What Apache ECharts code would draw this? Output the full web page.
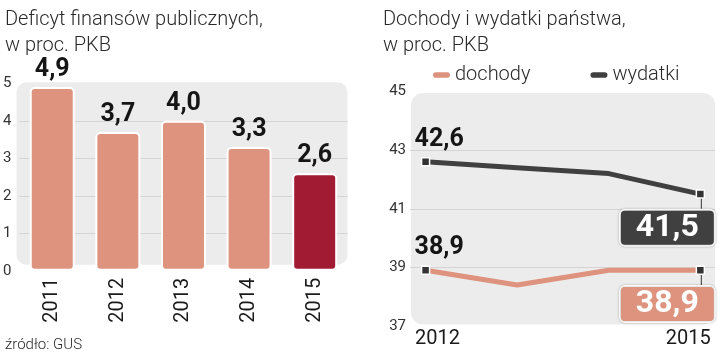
<!DOCTYPE html>
<html>
<head>
<meta charset="utf-8">
<script src="https://cdn.jsdelivr.net/npm/echarts@6/dist/echarts.min.js"></script>
<style>
html,body{margin:0;padding:0;background:#fff;}
#c{width:720px;height:355px;}
</style>
</head>
<body>
<div id="c"></div>
<script>
// ---- data ----
const deficitYears = ['2011', '2012', '2013', '2014', '2015'];
const deficit = [4.9, 3.7, 4.0, 3.3, 2.6];
const lineYears = [2012, 2013, 2014, 2015];
const dochody = [38.9, 38.4, 38.9, 38.9];
const wydatki = [42.6, 42.4, 42.2, 41.5];
const leftTicks = [0, 1, 2, 3, 4, 5];
const rightTicks = [37, 39, 41, 43, 45];
const rightXLabels = [2012, 2015];

// ---- layout / style ----
const FONT = 'Roboto';
const SALMON = '#de937e';
const DARKRED = '#a11b33';
const DARK = '#404040';
const BG = '#ececec';
const GRIDC = '#d4d4d4';

const G0 = { left: 16.5, top: 83.3, width: 331, height: 187.5 };
const G1 = { left: 410, top: 91.5, width: 305, height: 234.5 };
const BG0 = { x: G0.left, y: G0.top - 1, w: G0.width, h: G0.height - 5, r: 10 };
const BG1 = { x: G1.left + 1, y: G1.top + 1.5, w: G1.width - 1, h: G1.height - 3, r: 12 };

const fmt = v => Number(v).toFixed(1).replace('.', ',');

function lineData(vals, color) {
  const n = vals.length;
  return vals.map((v, i) => {
    const item = { value: [lineYears[i], v] };
    if (i === 0) {
      item.label = {
        show: true, position: 'top', distance: 5, align: 'left', offset: [-11, 0],
        formatter: p => fmt(p.value[1]),
        fontFamily: FONT, fontWeight: 'bold', fontSize: 25, color: '#151515'
      };
      item.itemStyle = { color: '#333', borderColor: '#fff', borderWidth: 1.5 };
    } else if (i === n - 1) {
      item.label = {
        show: true, position: 'bottom', distance: 0, offset: [-33, 0],
        formatter: p => '{ln|}{sp| }\n{v|' + fmt(p.value[1]) + '}',
        rich: {
          ln: { align: 'right', width: 1, height: 11, backgroundColor: '#333' },
          sp: { align: 'right', width: 12, height: 11, fontSize: 1 },
          v: {
            fontFamily: FONT, fontWeight: 'bold', fontSize: 32, color: '#fff',
            backgroundColor: color, borderColor: '#fff', borderWidth: 2, borderRadius: 4,
            padding: [1, 15, 1, 15], lineHeight: 36,
            shadowColor: 'rgba(0,0,0,0.35)', shadowBlur: 2
          }
        }
      };
      item.itemStyle = { color: '#333', borderColor: '#fff', borderWidth: 1.5 };
    } else {
      item.symbol = 'none';
    }
    return item;
  });
}

const chart = echarts.init(document.getElementById('c'), null, { renderer: 'canvas' });

const option = {
  animation: false,
  textStyle: { fontFamily: FONT },
  title: [
    { text: 'Deficyt finansów publicznych,\nw proc. PKB', left: 0, top: 2,
      textStyle: { fontFamily: FONT, fontWeight: 300, fontSize: 20, lineHeight: 26, color: '#2a2a2a' } },
    { text: 'Dochody i wydatki państwa,\nw proc. PKB', left: 378, top: 2,
      textStyle: { fontFamily: FONT, fontWeight: 300, fontSize: 20, lineHeight: 26, color: '#2a2a2a' } },
    { text: 'źródło: GUS', left: 0, top: 333,
      textStyle: { fontFamily: FONT, fontWeight: 300, fontSize: 15, color: '#2a2a2a' } }
  ],
  legend: {
    left: 428, top: 60, itemGap: 60, itemWidth: 17, itemHeight: 6,
    icon: 'path://M3,0 L15,0 A3,3 0 0 1 15,6 L3,6 A3,3 0 0 1 3,0 Z',
    textStyle: { fontFamily: FONT, fontWeight: 300, fontSize: 20, color: '#2a2a2a' },
    data: ['dochody', 'wydatki']
  },
  graphic: [
    { type: 'rect', z: -10, silent: true,
      shape: { x: BG0.x, y: BG0.y, width: BG0.w, height: BG0.h, r: BG0.r }, style: { fill: BG } },
    { type: 'rect', z: -10, silent: true,
      shape: { x: BG1.x, y: BG1.y, width: BG1.w, height: BG1.h, r: BG1.r }, style: { fill: BG } }
  ],
  grid: [
    { left: G0.left, top: G0.top, width: G0.width, height: G0.height },
    { left: G1.left, top: G1.top, width: G1.width, height: G1.height }
  ],
  xAxis: [
    { gridIndex: 0, type: 'category', data: deficitYears,
      axisLine: { show: false }, axisTick: { show: false },
      axisLabel: { rotate: 90, margin: 7, fontFamily: FONT, fontSize: 20, color: '#1a1a1a' } },
    { gridIndex: 1, type: 'value', min: 2011.83, max: 2015.16,
      axisLine: { show: false }, axisTick: { show: false }, splitLine: { show: false },
      axisLabel: {
        customValues: rightXLabels, margin: 3,
        formatter: v => (v === rightXLabels[0] ? '{a|' + v + '}' : '{b|' + v + '}'),
        rich: {
          a: { fontFamily: FONT, fontSize: 20, color: '#1a1a1a', padding: [0, 0, 0, 24] },
          b: { fontFamily: FONT, fontSize: 20, color: '#1a1a1a', padding: [0, 24, 0, 0] }
        }
      } }
  ],
  yAxis: [
    { gridIndex: 0, type: 'value', min: leftTicks[0], max: leftTicks[leftTicks.length - 1], interval: 1,
      axisLine: { show: false }, axisTick: { show: false },
      axisLabel: { margin: 8, fontFamily: FONT, fontSize: 15, color: '#333' },
      splitLine: { lineStyle: { color: ['transparent', GRIDC, GRIDC, GRIDC, GRIDC, 'transparent'], width: 1 } } },
    { gridIndex: 1, type: 'value', min: rightTicks[0], max: rightTicks[rightTicks.length - 1], interval: 2,
      axisLine: { show: false }, axisTick: { show: false },
      axisLabel: { margin: 4, fontFamily: FONT, fontSize: 15, color: '#333' },
      splitLine: { lineStyle: { color: ['transparent', GRIDC, GRIDC, GRIDC, 'transparent'], width: 1 } } }
  ],
  series: [
    { type: 'bar', xAxisIndex: 0, yAxisIndex: 0, barWidth: 45,
      data: deficit.map((v, i) => i === deficit.length - 1 ? { value: v, itemStyle: { color: DARKRED } } : v),
      itemStyle: { color: SALMON, borderColor: '#fff', borderWidth: 2, borderRadius: 4 },
      label: { show: true, position: 'top', distance: 5, formatter: p => fmt(p.value),
        fontFamily: FONT, fontWeight: 'bold', fontSize: 25, color: '#151515' } },
    { name: 'dochody', type: 'line', xAxisIndex: 1, yAxisIndex: 1,
      data: lineData(dochody, SALMON), symbol: 'rect', symbolSize: 8,
      color: SALMON, lineStyle: { color: SALMON, width: 5, join: 'round' } },
    { name: 'wydatki', type: 'line', xAxisIndex: 1, yAxisIndex: 1,
      data: lineData(wydatki, DARK), symbol: 'rect', symbolSize: 8,
      color: DARK, lineStyle: { color: DARK, width: 5, join: 'round' } }
  ]
};
chart.setOption(option);
</script>
</body>
</html>
